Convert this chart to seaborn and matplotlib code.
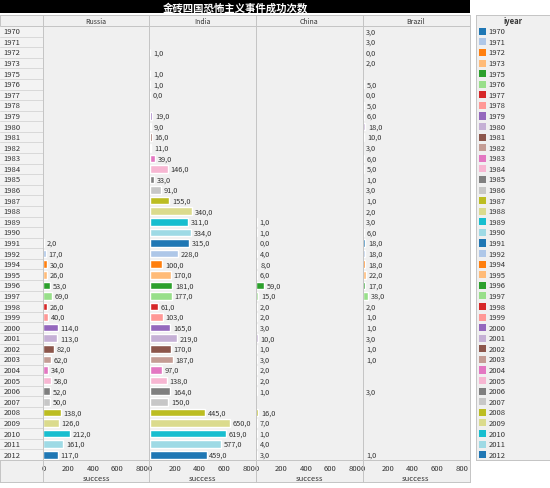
import numpy as np
import pandas as pd
import matplotlib
matplotlib.use('Agg')
import matplotlib.pyplot as plt
import seaborn as sns
from matplotlib.lines import Line2D

years = [1970, 1971, 1972, 1973, 1975, 1976, 1977, 1978, 1979, 1980,
         1981, 1982, 1983, 1984, 1985, 1986, 1987, 1988, 1989, 1990,
         1991, 1992, 1994, 1995, 1996, 1997, 1998, 1999, 2000, 2001,
         2002, 2003, 2004, 2005, 2006, 2007, 2008, 2009, 2010, 2011, 2012]
countries = ['Russia', 'India', 'China', 'Brazil']

russia = [None] * 20 + [2, 17, 30, 26, 53, 69, 26, 40, 114, 113, 82, 62, 34, 58,
                        52, 50, 138, 126, 212, 161, 117]
india = [None, None, 1, None, 1, 1, 0, None, 19, 9, 16, 11, 39, 146, 33, 91, 155,
         340, 311, 334, 315, 228, 100, 170, 181, 177, 61, 103, 165, 219, 170, 187,
         97, 138, 164, 150, 445, 650, 619, 577, 459]
china = [None] * 18 + [1, 1, 0, 4, 8, 6, 59, 15, 2, 2, 3, 10, 1, 3, 2, 2, 1, None,
                       16, 7, 1, 4, 3]
brazil = [3, 3, 0, 2, None, 5, 0, 5, 6, 18, 10, 3, 6, 5, 1, 3, 1, 2, 3, 6, 18, 18,
          18, 22, 17, 38, 2, 1, 1, 3, 1, 1, None, None, 3, None, None, None, None,
          None, 1]

title = '金砖四国恐怖主义事件成功次数'
xticks = [0, 200, 400, 600, 800]

labels = [str(y) for y in years]
tab = sns.color_palette('tab20', 20)
pal = {lab: tab[i % 20] for i, lab in enumerate(labels)}

rows = []
for name, vals in zip(countries, [russia, india, china, brazil]):
    for lab, v in zip(labels, vals):
        if v is not None:
            rows.append({'country': name, 'iyear': lab, 'success': v})
df = pd.DataFrame(rows)

sns.set_style('white')
plt.rcParams['font.family'] = ['Noto Sans CJK SC', 'DejaVu Sans']

W, H = 550, 489
fig = plt.figure(figsize=(W / 100, H / 100), dpi=100)
fig.patch.set_facecolor('white')


def px(x0, y0, x1, y1):
    return [x0 / W, 1 - y1 / H, (x1 - x0) / W, (y1 - y0) / H]


def fy(y):
    return 1 - y / H


grid = '#c4c4c4'
txt = '#333333'

# title bar
tax = fig.add_axes(px(0, 0, 470, 14))
tax.set_facecolor('black')
tax.set_xticks([]); tax.set_yticks([])
for s in tax.spines.values():
    s.set_visible(False)
tax.text(0.5, 0.45, title, color='white', fontsize=7.5, fontweight='bold',
         ha='center', va='center', transform=tax.transAxes)

# background frame
bg = fig.add_axes(px(0, 16, 470, 483), zorder=-5)
bg.set_facecolor('#f0f0f0')
bg.set_xticks([]); bg.set_yticks([])
for s in bg.spines.values():
    s.set_color(grid); s.set_linewidth(0.7)

# year label column
lab_ax = fig.add_axes(px(0, 27, 43, 461), zorder=-4)
lab_ax.set_facecolor('#f3f3f3')
lab_ax.set_xlim(0, 1)
lab_ax.set_ylim(len(labels) - 0.5, -0.5)
lab_ax.set_xticks([]); lab_ax.set_yticks([])
for s in lab_ax.spines.values():
    s.set_visible(False)
for i, lab in enumerate(labels):
    lab_ax.text(0.08, i, lab, fontsize=5.5, va='center', ha='left', color=txt)
    lab_ax.axhline(i + 0.5, color='#d4d4d4', lw=0.6)

# facets
x0 = 43
fw = 106.5
for i, name in enumerate(countries):
    left = x0 + i * fw
    ax = fig.add_axes(px(left, 27, left + fw, 461))
    ax.set_facecolor('none')
    d = df[df['country'] == name]
    sns.barplot(data=d, x='success', y='iyear', hue='iyear', order=labels,
                hue_order=labels, palette=pal, dodge=False, width=0.72,
                saturation=1, legend=False, orient='h', ax=ax)
    for c in ax.containers:
        ax.bar_label(c, labels=[f'{v:.1f}'.replace('.', ',') for v in c.datavalues],
                     padding=2, fontsize=5.3, color=txt)
    ax.set_ylim(len(labels) - 0.5, -0.5)
    ax.set_xlim(-4, 860)
    ax.set_xticks(xticks)
    ax.set_xticklabels([str(t) for t in xticks])
    ax.tick_params(axis='x', labelsize=5.5, length=2, width=0.5, color='#999999',
                   labelcolor=txt, pad=1)
    ax.tick_params(axis='y', left=False, labelleft=False)
    ax.set_ylabel('')
    ax.set_xlabel('success', fontsize=5.5, color=txt, labelpad=1)
    for s in ['top', 'left', 'right', 'bottom']:
        ax.spines[s].set_visible(False)
    fig.text((left + fw / 2) / W, fy(21.5), name, fontsize=5, ha='center',
             va='center', color=txt)

# separators
fig.add_artist(Line2D([0, 470 / W], [fy(27), fy(27)], color=grid, lw=0.7))
fig.add_artist(Line2D([0, 470 / W], [fy(461), fy(461)], color=grid, lw=0.7))
for i in range(4):
    xx = (x0 + i * fw) / W
    fig.add_artist(Line2D([xx, xx], [fy(16), fy(483)], color=grid, lw=0.7))

# legend panel
lg = fig.add_axes(px(476, 16, 550, 461), zorder=-5)
lg.set_facecolor('#f0f0f0')
lg.set_xticks([]); lg.set_yticks([])
for s in lg.spines.values():
    s.set_color(grid); s.set_linewidth(0.7)
fig.text(513 / W, fy(22), 'iyear', fontsize=5.5, fontweight='bold', ha='center',
         va='center', color=txt)

li = fig.add_axes(px(476, 27, 550, 461))
li.set_facecolor('none')
sns.scatterplot(x=np.full(len(labels), 0.085), y=labels, hue=labels, palette=pal,
                marker='s', s=26, linewidth=0, legend=False, ax=li)
for i, lab in enumerate(labels):
    li.text(0.17, i, lab, fontsize=5.5, va='center', ha='left', color=txt)
li.set_xlim(0, 1)
li.set_ylim(len(labels) - 0.5, -0.5)
li.axis('off')

fig.savefig('out.png', dpi=100, facecolor='white')
